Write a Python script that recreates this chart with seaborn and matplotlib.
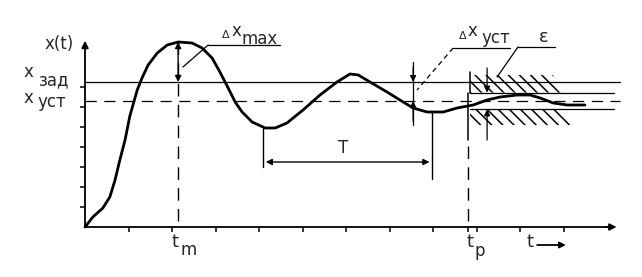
import matplotlib
matplotlib.use("Agg")
import matplotlib.pyplot as plt
import seaborn as sns
import pandas as pd

# ---- data (t in tick units, x in tick units) ----
t_curve = [0.0, 0.18, 0.41, 0.57, 0.69, 0.80, 0.92, 1.03, 1.20, 1.31, 1.45, 1.66,
           1.89, 2.14, 2.46, 2.69, 2.92, 3.10, 3.29, 3.45, 3.61, 3.84, 4.14, 4.37,
           4.64, 5.01, 5.40, 5.79, 6.09, 6.28, 6.55, 6.94, 7.31, 7.54, 7.86, 8.23,
           8.55, 8.92, 9.24, 9.54, 9.93, 10.23, 10.46, 10.76, 11.08, 11.49]
x_curve = [0.0, 0.5, 0.95, 1.5, 2.35, 3.35, 4.35, 5.55, 6.85, 7.45, 8.1, 8.7,
           9.1, 9.25, 9.2, 8.95, 8.45, 7.75, 6.95, 6.25, 5.75, 5.25, 4.95, 4.95,
           5.2, 5.85, 6.6, 7.25, 7.65, 7.6, 7.25, 6.75, 6.25, 5.95, 5.75, 5.75,
           5.95, 6.1, 6.35, 6.5, 6.6, 6.6, 6.45, 6.2, 6.1, 6.1]

x_set = 7.25        # x_зад
x_ss = 6.3          # x_уст
eps = 0.42          # half-width of the tolerance band
t_m = 2.14          # time of maximum
t_p = 8.80          # regulation time
T_start, T_end = 4.09, 7.98   # period markers
x_ticks = [1, 2, 3, 4, 5, 6, 7, 8, 9, 10, 11]
y_ticks = [1, 2, 3, 4, 5, 6, 7]

df = pd.DataFrame({"t": t_curve, "x": x_curve})

sns.set_style("white")
plt.rcParams["font.family"] = ["DejaVu Sans"]
plt.rcParams["hatch.linewidth"] = 1.1

fig = plt.figure(figsize=(6.42, 2.77), dpi=100)
ax = fig.add_axes([0, 0, 1, 1])
ax.set_xlim(-1.954, 12.80)
ax.set_ylim(-2.5, 11.35)

K = "black"
FS = 12

# axes with ticks
for s in ["top", "right"]:
    ax.spines[s].set_visible(False)
ax.spines["left"].set_position(("data", 0))
ax.spines["bottom"].set_position(("data", 0))
ax.spines["left"].set_bounds(0, 9.1)
ax.spines["bottom"].set_bounds(0, 12.0)
for s in ["left", "bottom"]:
    ax.spines[s].set_color(K)
    ax.spines[s].set_linewidth(1.3)
ax.set_xticks(x_ticks + [t_p])
ax.set_yticks(y_ticks)
ax.set_xticklabels([])
ax.set_yticklabels([])
ax.tick_params(bottom=True, left=True, direction="out", length=3.5, width=1.1,
               color=K)
ax.annotate("", xy=(0, 9.45), xytext=(0, 8.9),
            arrowprops=dict(arrowstyle="-|>", color=K, lw=1.3, mutation_scale=10))
ax.annotate("", xy=(12.28, 0), xytext=(11.9, 0),
            arrowprops=dict(arrowstyle="-|>", color=K, lw=1.3, mutation_scale=10))

# reference lines
ax.plot([0, 12.3], [x_set, x_set], color=K, lw=0.9)
ax.plot([0, 12.3], [x_ss, x_ss], color=K, lw=0.9, dashes=(9, 6))
ax.plot([t_p + 0.05, 12.15], [x_ss + eps, x_ss + eps], color=K, lw=0.9)
ax.plot([t_p + 0.05, 12.15], [x_ss - eps, x_ss - eps], color=K, lw=0.9)

# hatched tolerance zones
ax.fill([t_p + 0.05, 10.75, 10.95, t_p + 0.05],
        [7.6, 7.6, x_ss + eps, x_ss + eps], facecolor="none",
        edgecolor=K, hatch="\\" * 3, linewidth=0)
ax.fill([t_p + 0.05, 10.95, 11.3, t_p + 0.05],
        [x_ss - eps, x_ss - eps, 5.1, 5.1], facecolor="none",
        edgecolor=K, hatch="\\" * 3, linewidth=0)
ax.plot([t_p + 0.05, t_p + 0.05], [x_ss + eps, 7.75], color=K, lw=1.1)

# the transient curve
sns.lineplot(data=df, x="t", y="x", sort=False, color=K, lw=2.0, ax=ax,
             estimator=None)
ax.set_xlabel("")
ax.set_ylabel("")

# t_m and t_p verticals
ax.plot([t_m, t_m], [0.3, 9.25], color=K, lw=1.0, dashes=(9, 6))
ax.plot([t_p, t_p], [0.3, 4.35], color=K, lw=1.0, dashes=(9, 6))
ax.plot([t_p, t_p], [4.35, x_ss + eps], color=K, lw=1.1)

# period T
ax.plot([T_start, T_start], [3.0, 4.95], color=K, lw=1.0)
ax.plot([T_end, T_end], [2.4, 5.75], color=K, lw=1.0)
ax.annotate("", xy=(T_start, 3.25), xytext=(T_end, 3.25),
            arrowprops=dict(arrowstyle="<|-|>", color=K, lw=1.0, mutation_scale=9))
ax.text(5.93, 3.95, "T", fontsize=FS, ha="center", va="center")

# delta x max
ax.annotate("", xy=(t_m, 9.25), xytext=(t_m, x_set),
            arrowprops=dict(arrowstyle="<|-|>", color=K, lw=1.0, mutation_scale=9,
                            shrinkA=0, shrinkB=0))
ax.plot([2.83, 4.48], [9.1, 9.1], color=K, lw=0.9)
ax.plot([2.83, 2.25], [9.1, 8.0], color=K, lw=0.9)
ax.text(3.24, 9.62, "Δ", fontsize=8, ha="center", va="center")
ax.text(3.47, 9.78, "x", fontsize=FS, ha="center", va="center")
ax.text(4.02, 9.40, "max", fontsize=FS, ha="center", va="center")

# delta x уст
ax.plot([7.54, 7.54], [5.1, 8.25], color=K, lw=0.9)
ax.annotate("", xy=(7.54, x_set), xytext=(7.54, 8.0),
            arrowprops=dict(arrowstyle="-|>", color=K, lw=0.9, mutation_scale=9,
                            shrinkA=0, shrinkB=0))
ax.annotate("", xy=(7.54, x_ss), xytext=(7.54, 5.3),
            arrowprops=dict(arrowstyle="-|>", color=K, lw=0.9, mutation_scale=9,
                            shrinkA=0, shrinkB=0))
ax.plot([8.46, 9.77], [8.95, 8.95], color=K, lw=0.9)
ax.plot([8.46, 7.63], [8.95, 6.85], color=K, lw=0.9, dashes=(4, 3))
ax.text(8.67, 9.55, "Δ", fontsize=8, ha="center", va="center")
ax.text(8.90, 9.78, "x", fontsize=FS, ha="center", va="center")
ax.text(9.43, 9.45, "уст", fontsize=FS, ha="center", va="center")

# epsilon
ax.annotate("", xy=(9.24, x_ss + eps), xytext=(9.24, 7.95),
            arrowprops=dict(arrowstyle="-|>", color=K, lw=0.9, mutation_scale=9,
                            shrinkA=0, shrinkB=0))
ax.annotate("", xy=(9.24, x_ss - eps), xytext=(9.24, 4.35),
            arrowprops=dict(arrowstyle="-|>", color=K, lw=0.9, mutation_scale=9,
                            shrinkA=0, shrinkB=0))
ax.plot([9.95, 10.80], [9.0, 9.0], color=K, lw=0.9)
ax.plot([9.95, 9.47], [9.0, 7.5], color=K, lw=0.9)
ax.text(10.53, 9.5, "ε", fontsize=FS + 1, ha="center", va="center")

# y-axis labels
ax.text(-0.60, 9.15, "x(t)", fontsize=FS, ha="center", va="center")
ax.text(-1.29, 7.75, "x", fontsize=FS, ha="center", va="center")
ax.text(-0.71, 7.35, "зад", fontsize=FS, ha="center", va="center")
ax.text(-1.29, 6.45, "x", fontsize=FS, ha="center", va="center")
ax.text(-0.76, 6.25, "уст", fontsize=FS, ha="center", va="center")

# x-axis labels
ax.text(2.07, -0.75, "t", fontsize=FS + 1, ha="center", va="center")
ax.text(2.39, -1.15, "m", fontsize=FS, ha="center", va="center")
ax.text(8.85, -0.75, "t", fontsize=FS + 1, ha="center", va="center")
ax.text(9.08, -1.2, "p", fontsize=FS, ha="center", va="center")
ax.text(10.23, -0.75, "t", fontsize=FS + 1, ha="center", va="center")
ax.annotate("", xy=(11.05, -0.9), xytext=(10.39, -0.9),
            arrowprops=dict(arrowstyle="-|>", color=K, lw=1.3, mutation_scale=9,
                            shrinkA=0, shrinkB=0))

fig.savefig("out.png", dpi=100, facecolor="white")
